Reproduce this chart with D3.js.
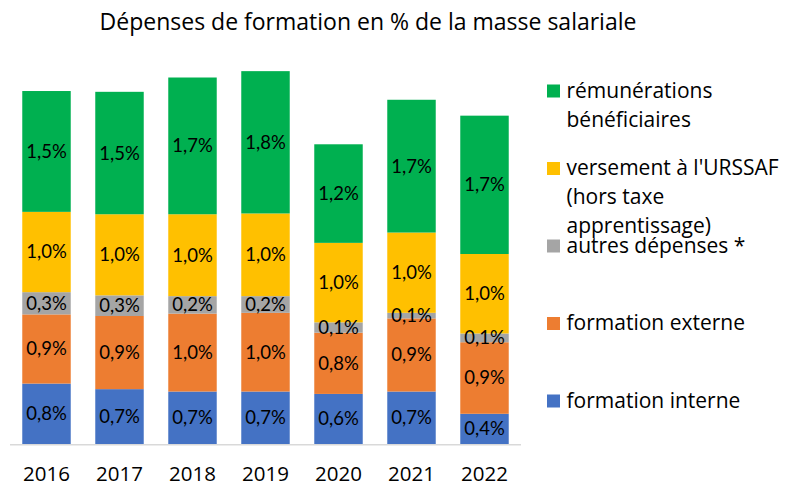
<!DOCTYPE html>
<html>
<head>
<meta charset="utf-8">
<script src="https://cdn.jsdelivr.net/npm/d3@7"></script>
<style>
  body { margin: 0; background: #fff; }
  text { fill: #000; }
</style>
</head>
<body>
<div id="chart"></div>
<script>
// data (% de la masse salariale)
const years = ["2016", "2017", "2018", "2019", "2020", "2021", "2022"];
const formationInterne = [0.76, 0.69, 0.66, 0.66, 0.63, 0.66, 0.38];
const formationExterne = [0.87, 0.92, 0.98, 0.99, 0.77, 0.92, 0.90];
const autresDepenses = [0.28, 0.26, 0.22, 0.21, 0.13, 0.07, 0.11];
const versementUrssaf = [1.01, 1.02, 1.03, 1.04, 1.00, 1.01, 1.00];
const remunerations = [1.52, 1.54, 1.72, 1.79, 1.24, 1.67, 1.74];

const seriesKeys = ["interne", "externe", "autres", "urssaf", "remu"];
const seriesLabels = {
    interne: ["formation interne"],
    externe: ["formation externe"],
    autres: ["autres dépenses *"],
    urssaf: ["versement à l'URSSAF", "(hors taxe", "apprentissage)"],
    remu: ["rémunérations", "bénéficiaires"]
};
const colors = {
    interne: "#4472C4",
    externe: "#ED7D31",
    autres: "#A5A5A5",
    urssaf: "#FFC000",
    remu: "#00B050"
};

const data = years.map((y, i) => ({
    year: y,
    interne: formationInterne[i],
    externe: formationExterne[i],
    autres: autresDepenses[i],
    urssaf: versementUrssaf[i],
    remu: remunerations[i]
}));

const width = 792, height = 486;

const svg = d3.select("#chart").append("svg")
    .attr("width", width)
    .attr("height", height);

const x = d3.scaleBand()
    .domain(years)
    .range([10, 521])
    .paddingInner(0.336)
    .paddingOuter(0.168);

const y = d3.scaleLinear()
    .domain([0, 5])
    .range([444, 46.5]);

const stack = d3.stack().keys(seriesKeys);
const stacked = stack(data);

const fmt = v => d3.format(".1f")(v).replace(".", ",") + "%";

// title
svg.append("text")
    .attr("x", 368)
    .attr("y", 30)
    .attr("text-anchor", "middle")
    .style("font-family", "'Open Sans', sans-serif")
    .style("font-size", "23px")
    .text("Dépenses de formation en % de la masse salariale");

// bars
const layers = svg.append("g")
    .selectAll("g")
    .data(stacked)
    .join("g")
    .attr("fill", d => colors[d.key]);

layers.selectAll("rect")
    .data(d => d)
    .join("rect")
    .attr("x", d => x(d.data.year))
    .attr("y", d => y(d[1]))
    .attr("width", x.bandwidth())
    .attr("height", d => y(d[0]) - y(d[1]));

// axis line
svg.append("line")
    .attr("x1", 10)
    .attr("x2", 521)
    .attr("y1", 444.8)
    .attr("y2", 444.8)
    .attr("stroke", "#d9d9d9")
    .attr("stroke-width", 1.5);

// data labels
const labelGroup = svg.append("g")
    .style("font-family", "Lato, 'Open Sans', sans-serif")
    .style("font-size", "18.5px")
    .attr("text-anchor", "middle");

stacked.forEach(layer => {
    labelGroup.selectAll(null)
        .data(layer)
        .join("text")
        .attr("x", d => x(d.data.year) + x.bandwidth() / 2)
        .attr("y", d => (y(d[0]) + y(d[1])) / 2)
        .attr("dy", "0.35em")
        .text(d => fmt(d[1] - d[0]));
});

// x labels
svg.append("g")
    .selectAll("text")
    .data(years)
    .join("text")
    .attr("x", d => x(d) + x.bandwidth() / 2)
    .attr("y", 480.5)
    .attr("text-anchor", "middle")
    .style("font-family", "'Open Sans', sans-serif")
    .style("font-size", "20.5px")
    .text(d => d);

// legend, top entry is the top of the stack
const legendKeys = seriesKeys.slice().reverse();
const ly = d3.scalePoint()
    .domain(legendKeys)
    .range([91, 401]);

const legend = svg.append("g")
    .selectAll("g")
    .data(legendKeys)
    .join("g")
    .attr("transform", d => `translate(547,${ly(d)})`);

legend.append("rect")
    .attr("x", 0)
    .attr("y", -6.5)
    .attr("width", 13)
    .attr("height", 13)
    .attr("fill", d => colors[d]);

legend.append("text")
    .style("font-family", "'Open Sans', sans-serif")
    .style("font-size", "21px")
    .selectAll("tspan")
    .data(d => seriesLabels[d])
    .join("tspan")
    .attr("x", 19.5)
    .attr("y", (d, i) => 6.8 + i * 29)
    .text(d => d);
</script>
</body>
</html>
